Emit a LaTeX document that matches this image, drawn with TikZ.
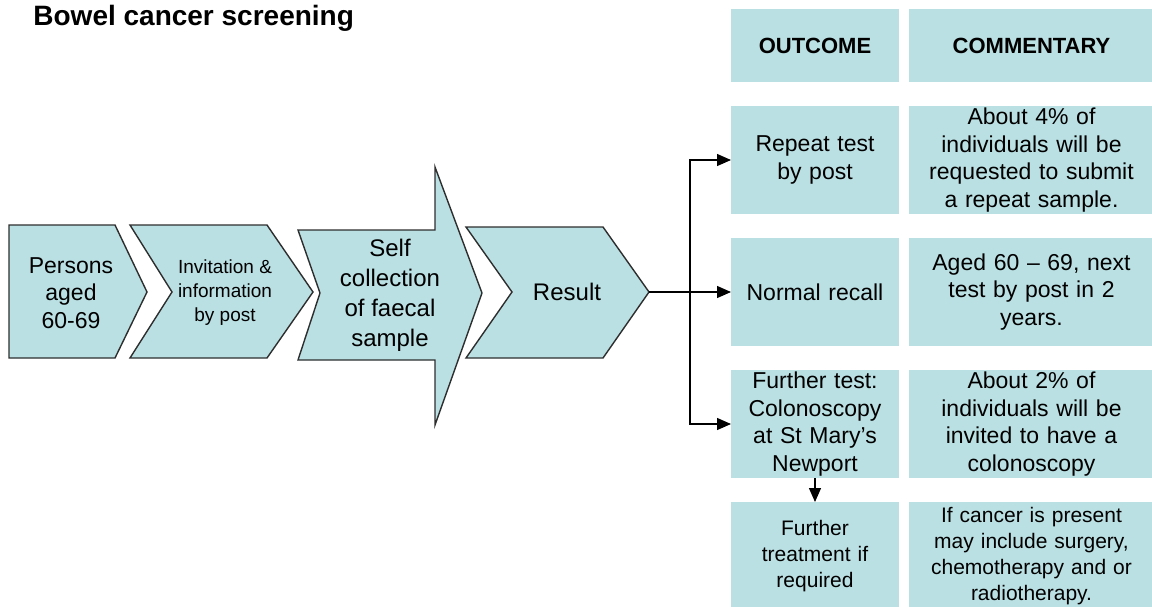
\documentclass[tikz,border=0pt]{standalone}
\usepackage{fontspec}
\setmainfont{Liberation Sans}
\usetikzlibrary{arrows.meta,positioning}
\definecolor{boxfill}{HTML}{BAE0E3}
\definecolor{chevline}{HTML}{2E2E2E}
\tikzset{%
        chev/.style = {draw=chevline, fill=boxfill, line width=0.7pt},
        cell/.style = {fill=boxfill, inner sep=0pt, outer sep=0pt,
                       align=center, minimum height=54pt},
        outcell/.style = {cell, text width=84pt},
        comcell/.style = {cell, text width=122.5pt},
        headtext/.style = {minimum height=36.5pt, font=\bfseries\fontsize{11}{13}\selectfont},
        bigtext/.style = {font=\fontsize{11.5}{13.8}\selectfont},
        smalltext/.style = {font=\fontsize{10.5}{13}\selectfont},
        link/.style = {draw=black, line width=0.65pt},
        arr/.style = {link, -{Triangle[length=7pt,width=6pt]}},
        node distance=12pt and 5pt
}

\begin{document}
\begin{tikzpicture}[x=0.5pt,y=-0.5pt]
        \useasboundingbox (0,0) rectangle (1152,606);
        \node[anchor=base west, inner sep=0pt, font=\bfseries\fontsize{14}{17}\selectfont] (title) at (33,25) {Bowel cancer screening};

        % chevrons
        \draw[chev] (9,225) -- (115,225) -- (147,292) -- (115,358) -- (9,358) -- cycle;
        \draw[chev] (130,225) -- (267,225) -- (313,292) -- (267,358) -- (130,358) -- (172,292) -- cycle;
        \draw[chev] (298,230) -- (435,230) -- (435,167) -- (482,293) -- (435,425) -- (435,360)
                -- (298,360) -- (320,293) -- cycle;
        \draw[chev] (466,227) -- (603,227) -- (649,292) -- (603,358) -- (466,358) -- (512,292) -- cycle;
        \node[bigtext, align=center] (persons) at (71,293) {Persons\\aged\\60-69};
        \node[align=center, font=\fontsize{9.5}{12}\selectfont] (invite) at (225,293) {Invitation \&\\information\\by post};
        \node[align=center, font=\fontsize{12}{15}\selectfont] (collect) at (390,295) {Self\\collection\\of faecal\\sample};
        \node[font=\fontsize{12}{15}\selectfont] (result) at (567,292) {Result};
        \coordinate (rtip) at (649,292);
        \coordinate (fork) at (690,292);

        % outcome and commentary table
        \node[outcell, headtext] (o0) at (815,45.5) {OUTCOME};
        \node[comcell, headtext, right=of o0] (c0) {COMMENTARY};
        \node[outcell, bigtext, below=of o0] (o1) {Repeat test\\by post};
        \node[comcell, bigtext, right=of o1] (c1) {About 4\% of\\individuals will be\\requested to submit\\a repeat sample.};
        \node[outcell, bigtext, below=of o1] (o2) {Normal recall};
        \node[comcell, bigtext, right=of o2] (c2) {Aged 60 -- 69, next\\test by post in 2\\years.};
        \node[outcell, bigtext, below=of o2] (o3) {Further test:\\Colonoscopy\\at St Mary's\\Newport};
        \node[comcell, bigtext, right=of o3] (c3) {About 2\% of\\individuals will be\\invited to have a\\colonoscopy};
        \node[outcell, smalltext, below=of o3] (o4) {Further\\treatment if\\required};
        \node[comcell, smalltext, right=of o4] (c4) {If cancer is present\\may include surgery,\\chemotherapy and or\\radiotherapy.};

        \draw[link] (rtip) -- (fork);
        \draw[arr] (fork) |- (o1.west);
        \draw[arr] (fork) -- (o2.west);
        \draw[arr] (fork) |- (o3.west);
        \draw[arr] (o3.south) -- (o4.north);
\end{tikzpicture}
\end{document}
